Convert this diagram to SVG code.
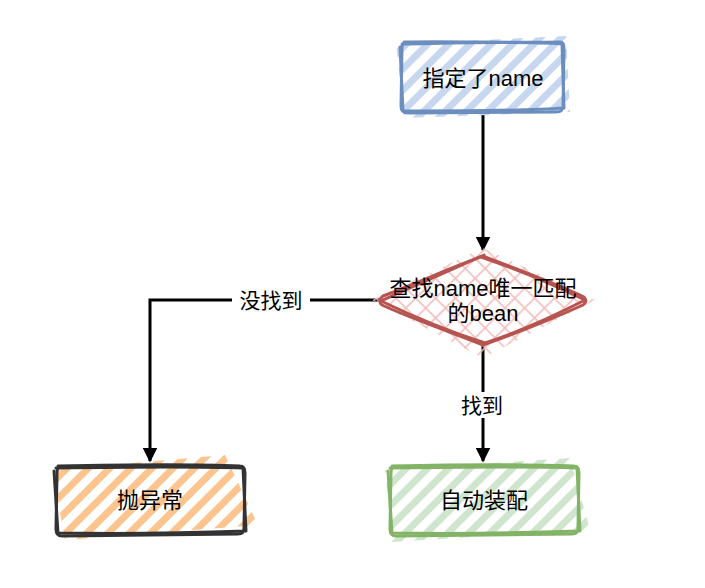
<svg xmlns="http://www.w3.org/2000/svg" width="705" height="588" viewBox="0 0 705 588">
<defs>
<style>
.t{font-family:"Liberation Sans","Noto Sans CJK SC",sans-serif;font-size:22px;fill:#000;text-anchor:middle;dominant-baseline:central}
.lbl{font-family:"Liberation Sans","Noto Sans CJK SC",sans-serif;font-size:21px;fill:#000;text-anchor:middle;dominant-baseline:central}
.edge{fill:none;stroke:#000;stroke-width:3}
.b{fill:none;stroke-width:3;stroke-linejoin:round;stroke-linecap:round}
</style>
<pattern id="pBlue" patternUnits="userSpaceOnUse" width="15" height="15" patternTransform="rotate(-45)"><rect width="15" height="7" fill="#c6d7ef"/></pattern>
<pattern id="pOrange" patternUnits="userSpaceOnUse" width="15" height="15" patternTransform="rotate(-45)"><rect width="15" height="7" fill="#fcc48e"/></pattern>
<pattern id="pGreen" patternUnits="userSpaceOnUse" width="15" height="15" patternTransform="rotate(-45)"><rect width="15" height="7" fill="#cfe5cd"/></pattern>
<pattern id="pRed" patternUnits="userSpaceOnUse" width="14" height="14" patternTransform="rotate(-45)"><rect width="14" height="1.6" fill="#f4bcbc"/></pattern>
<pattern id="pRed2" patternUnits="userSpaceOnUse" width="14" height="14" patternTransform="rotate(45)"><rect width="14" height="1.6" fill="#f4bcbc"/></pattern>
<marker id="arr" viewBox="0 0 10 10" refX="9" refY="5" markerWidth="5" markerHeight="5" orient="auto" markerUnits="strokeWidth"><path d="M0,0 L10,5 L0,10 Z" fill="#000"/></marker>
</defs>
<rect width="705" height="588" fill="#fff"/>
<g id="connectors">
<path class="edge" d="M483,114 L483,250" marker-end="url(#arr)"/>
<path class="edge" d="M380,300 L150,300 L150,461" marker-end="url(#arr)"/>
<path class="edge" d="M483,345 L483,461" marker-end="url(#arr)"/>
<rect x="232" y="287" width="78" height="26" fill="#fff"/>
<text class="lbl" x="271" y="300">没找到</text>
<rect x="454" y="392" width="58" height="26" fill="#fff"/>
<text class="lbl" x="482" y="405">找到</text>
</g>
<g id="node-name">
<path d="M396,44 L566,36 L570,112 L404,118 Z" fill="url(#pBlue)"/>
<path class="b" stroke="#6c8ebf" d="M404,42 C450,41 520,43 560,42 C564,42 564,46 564,50 L563,106 C563,111 560,112 556,112 L408,113 C403,113 401,110 401,106 L402,48 C402,44 403,42 410,42"/>
<path class="b" stroke="#6c8ebf" stroke-width="2" d="M402,44 C460,43 520,41 562,44 L564,108 C520,111 460,111 403,111 L400,47"/>
<text class="t" x="483" y="78">指定了name</text>
</g>
<g id="node-find">
<path d="M483,248 L595,300 L483,358 L372,300 Z" fill="url(#pRed)"/>
<path d="M483,248 L595,300 L483,358 L372,300 Z" fill="url(#pRed2)"/>
<path class="b" stroke="#b85450" d="M483,256 C520,270 560,285 584,297 C587,300 586,303 583,305 C550,320 520,332 483,345 C450,332 410,318 382,305 C379,303 379,299 383,296 C420,282 450,268 483,256"/>
<path class="b" stroke="#b85450" stroke-width="2" d="M481,257 C525,272 558,287 585,300 C550,318 515,333 485,343 C445,330 410,315 381,301 C418,284 452,270 484,255"/>
<text class="t" x="483" y="288">查找name唯一匹配</text>
<text class="t" x="483" y="313">的bean</text>
</g>
<g id="node-throw">
<path d="M52,470 L225,455 L258,525 L65,540 Z" fill="url(#pOrange)"/>
<path class="b" stroke="#333333" d="M58,466 C110,465 190,464 240,466 C244,466 245,469 245,473 L244,528 C244,532 242,534 238,534 L62,536 C57,536 56,533 56,529 L57,472 C57,468 59,466 64,466"/>
<path class="b" stroke="#333333" stroke-width="2" d="M56,468 C120,467 190,466 243,468 L246,531 C190,533 120,534 58,533 L54,471"/>
<text class="t" x="150" y="500">抛异常</text>
</g>
<g id="node-auto">
<path d="M385,470 L570,458 L590,530 L392,542 Z" fill="url(#pGreen)"/>
<path class="b" stroke="#82b366" d="M392,466 C440,465 520,464 574,466 C578,466 579,469 579,473 L578,528 C578,532 576,534 572,534 L396,536 C391,536 390,533 390,529 L391,472 C391,468 393,466 398,466"/>
<path class="b" stroke="#82b366" stroke-width="2" d="M390,468 C450,467 520,466 577,468 L580,531 C520,533 450,534 392,533 L388,471"/>
<text class="t" x="484" y="500">自动装配</text>
</g>
</svg>
